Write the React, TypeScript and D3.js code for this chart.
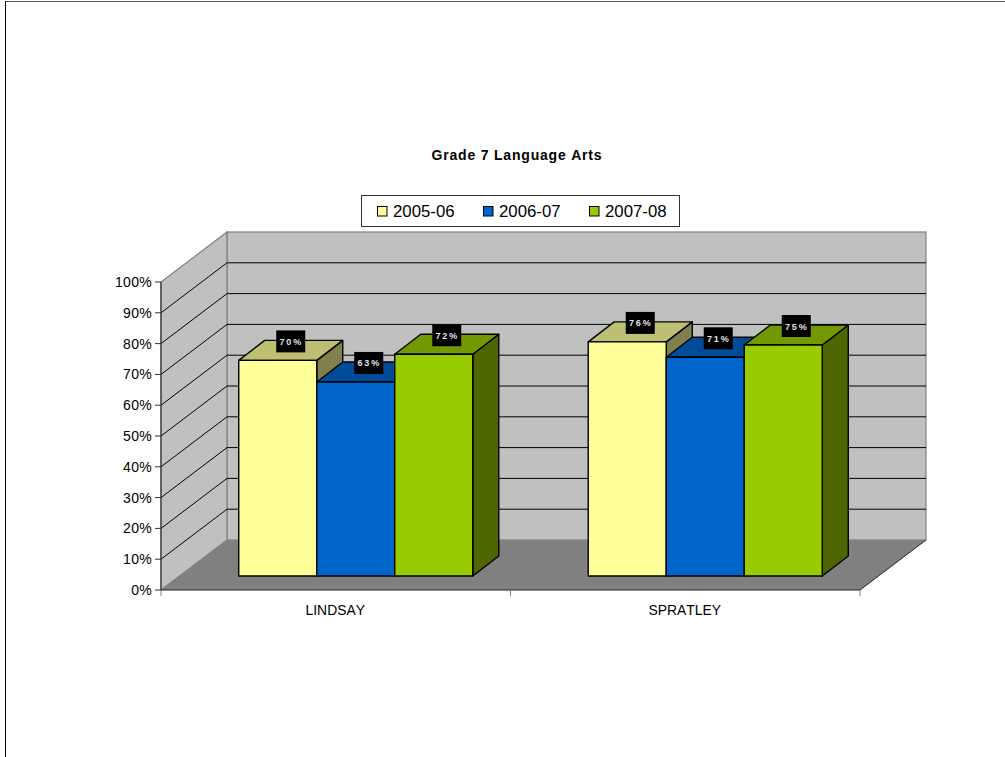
import React from "react";
import * as d3 from "d3";

const categories = ["LINDSAY", "SPRATLEY"];
const seriesNames = ["2005-06", "2006-07", "2007-08"];
const values2005 = [70, 76];
const values2006 = [63, 71];
const values2007 = [72, 75];
const seriesValues = [values2005, values2006, values2007];
const frontFill = ["#FFFF99", "#0066CC", "#99CC00"];
const topFill = ["#BFBF73", "#004C99", "#739900"];
const sideFill = ["#80804D", "#003366", "#4D6600"];
const percentTicks = d3.range(0, 101, 10);

const W = 1005;
const H = 757;
const FONT = "'Liberation Sans', Arial, sans-serif";

// Oblique projection: the front plane plus a constant shift for the depth axis.
const plotLeft = 161;
const plotRight = 860;
const plotBase = 590;
const plotTop = 282;
const depthX = 66;
const depthY = -50;
const barShiftX = 20;
const barShiftY = -14;
const barDepthX = 26;
const barDepthY = -20;

const y = d3.scaleLinear().domain([0, 100]).range([plotBase, plotTop]);
const x0 = d3.scaleBand<string>().domain(categories).range([plotLeft, plotRight]);
const x1 = d3
  .scaleBand<string>()
  .domain(seriesNames)
  .range([0, x0.bandwidth()])
  .paddingInner(0)
  .paddingOuter(0.74);

const pts = (list: number[][]) => list.map((p) => p.join(",")).join(" ");

function Bar({ cat, s, value }: { cat: string; s: number; value: number }) {
  const left = (x0(cat) as number) + (x1(seriesNames[s]) as number) + barShiftX;
  const right = left + x1.bandwidth();
  const bottom = y(0) + barShiftY;
  const top = y(value) + barShiftY;
  return (
    <g stroke="#000" strokeWidth={1.4} strokeLinejoin="round">
      <polygon
        fill={sideFill[s]}
        points={pts([
          [right, top],
          [right + barDepthX, top + barDepthY],
          [right + barDepthX, bottom + barDepthY],
          [right, bottom],
        ])}
      />
      <polygon
        fill={topFill[s]}
        points={pts([
          [left, top],
          [left + barDepthX, top + barDepthY],
          [right + barDepthX, top + barDepthY],
          [right, top],
        ])}
      />
      <rect x={left} y={top} width={right - left} height={bottom - top} fill={frontFill[s]} />
    </g>
  );
}

function ValueLabel({ cat, s, value }: { cat: string; s: number; value: number }) {
  const left = (x0(cat) as number) + (x1(seriesNames[s]) as number) + barShiftX;
  const cx = left + x1.bandwidth() / 2 + barDepthX / 2;
  const cy = y(value) + barShiftY - 19;
  return (
    <g>
      <rect x={cx - 14.5} y={cy - 11} width={29} height={22} fill="#000" />
      <text
        x={cx + 0.5}
        y={cy + 3.5}
        textAnchor="middle"
        fontFamily={FONT}
        fontSize={9}
        fontWeight="bold"
        letterSpacing={1.8}
        fill="#E0E0E0"
        style={{ fontKerning: "none" }}
      >
        {value}%
      </text>
    </g>
  );
}

export default function App() {
  return (
    <svg
      width={W}
      height={H}
      viewBox={`0 0 ${W} ${H}`}
      style={{ position: "absolute", left: 0, top: 0, display: "block", background: "#fff" }}
    >
      {/* sheet border */}
      <line x1={5} x2={W} y1={1.5} y2={1.5} stroke="#555" strokeWidth={1} />
      <line x1={5.5} x2={5.5} y1={1} y2={H} stroke="#000" strokeWidth={1} />

      <text
        x={517}
        y={160}
        textAnchor="middle"
        fontFamily={FONT}
        fontSize={14}
        fontWeight="bold"
        letterSpacing={0.8}
        fill="#000"
        style={{ fontKerning: "none" }}
      >
        Grade 7 Language Arts
      </text>

      {/* legend */}
      <rect x={361.5} y={195.5} width={318} height={31} fill="#fff" stroke="#333" strokeWidth={1} />
      {seriesNames.map((name, i) => {
        const sx = 377.5 + i * 106;
        return (
          <g key={name}>
            <rect x={sx} y={206.5} width={9.5} height={9.5} fill={frontFill[i]} stroke="#000" />
            <text x={sx + 15.5} y={216.5} fontFamily={FONT} fontSize={16.8} fill="#000">
              {name}
            </text>
          </g>
        );
      })}

      {/* walls and floor */}
      <rect
        x={plotLeft + depthX}
        y={y(100) + depthY}
        width={plotRight - plotLeft}
        height={y(0) - y(100)}
        fill="#C0C0C0"
        stroke="#808080"
        strokeWidth={1.2}
      />
      <polygon
        fill="#C0C0C0"
        stroke="#808080"
        strokeWidth={1.2}
        points={pts([
          [plotLeft, y(0)],
          [plotLeft + depthX, y(0) + depthY],
          [plotLeft + depthX, y(100) + depthY],
          [plotLeft, y(100)],
        ])}
      />
      {percentTicks.slice(1, -1).map((t) => (
        <polyline
          key={t}
          fill="none"
          stroke="#000"
          strokeWidth={1}
          points={pts([
            [plotLeft, y(t)],
            [plotLeft + depthX, y(t) + depthY],
            [plotRight + depthX, y(t) + depthY],
          ])}
        />
      ))}
      <polygon
        fill="#808080"
        points={pts([
          [plotLeft, y(0)],
          [plotLeft + depthX, y(0) + depthY],
          [plotRight + depthX, y(0) + depthY],
          [plotRight, y(0)],
        ])}
      />
      <line
        x1={plotRight}
        y1={y(0)}
        x2={plotRight + depthX}
        y2={y(0) + depthY}
        stroke="#222"
        strokeWidth={1}
      />

      {/* bars: back-to-front from left to right so side faces overlap correctly */}
      {categories.map((cat, c) =>
        seriesValues.map((vals, s) => <Bar key={`${cat}-${s}`} cat={cat} s={s} value={vals[c]} />)
      )}
      {categories.map((cat, c) =>
        seriesValues.map((vals, s) => (
          <ValueLabel key={`${cat}-${s}`} cat={cat} s={s} value={vals[c]} />
        ))
      )}

      {/* value axis */}
      <line x1={plotLeft} x2={plotLeft} y1={y(100)} y2={y(0)} stroke="#333" strokeWidth={1.2} />
      {percentTicks.map((t) => (
        <g key={t}>
          <line x1={plotLeft - 6} x2={plotLeft} y1={y(t)} y2={y(t)} stroke="#333" strokeWidth={1} />
          <text
            x={plotLeft - 9}
            y={y(t) + 5}
            textAnchor="end"
            fontFamily={FONT}
            fontSize={14}
            letterSpacing={0.3}
            fill="#000"
          >
            {t}%
          </text>
        </g>
      ))}

      {/* category axis */}
      <line x1={plotLeft} x2={plotRight} y1={y(0)} y2={y(0)} stroke="#222" strokeWidth={1.2} />
      {[plotLeft, plotLeft + x0.step(), plotRight].map((tx) => (
        <line key={tx} x1={tx} x2={tx} y1={y(0)} y2={y(0) + 6} stroke="#808080" strokeWidth={1} />
      ))}
      {categories.map((cat) => (
        <text
          key={cat}
          x={(x0(cat) as number) + x0.bandwidth() / 2 - 0.5}
          y={615}
          textAnchor="middle"
          fontFamily={FONT}
          fontSize={13.9}
          fill="#000"
          style={{ fontKerning: "none" }}
        >
          {cat}
        </text>
      ))}
    </svg>
  );
}
